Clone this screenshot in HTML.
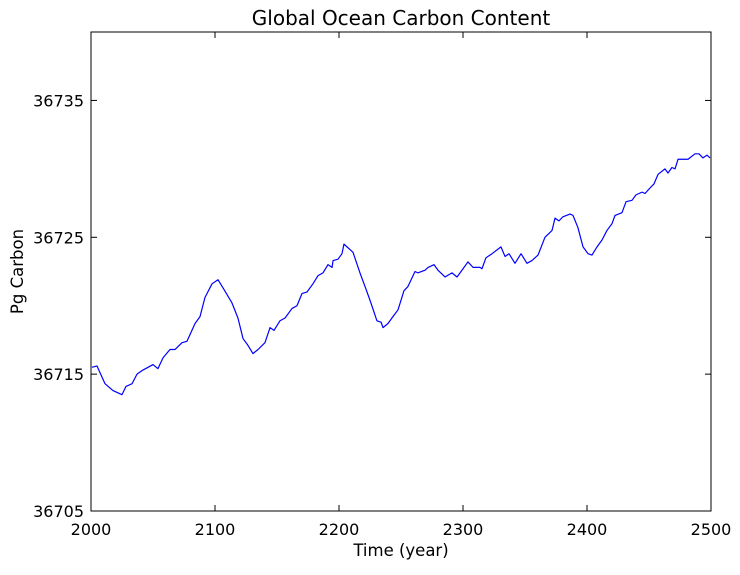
<!DOCTYPE html>
<html><head><meta charset="utf-8"><style>
body{margin:0;background:#fff}
svg text{font-family:"DejaVu Sans","Liberation Sans",sans-serif;fill:#000}
</style></head><body>
<svg id="chart" width="740" height="570" xmlns="http://www.w3.org/2000/svg"></svg>
<script>
const years=[2000.8,2004.8,2007.3,2011.3,2017.7,2025.0,2028.2,2033.1,2037.1,2041.9,2046.0,2050.0,2054.0,2058.1,2063.7,2067.7,2073.4,2077.4,2083.9,2087.9,2091.9,2097.6,2102.4,2106.5,2113.7,2118.5,2122.6,2126.6,2130.6,2134.7,2140.3,2144.4,2147.6,2152.4,2156.5,2162.1,2166.1,2170.2,2174.2,2179.0,2183.1,2187.1,2191.1,2194.4,2195.2,2199.2,2202.4,2204.0,2208.9,2211.3,2216.9,2221.0,2225.0,2230.6,2233.9,2235.5,2239.5,2243.5,2247.6,2252.4,2255.6,2261.3,2263.7,2269.4,2271.8,2276.6,2279.8,2285.5,2291.1,2295.2,2299.2,2304.0,2308.1,2313.7,2315.3,2318.5,2323.4,2330.6,2333.9,2337.1,2341.9,2346.8,2351.6,2355.6,2360.5,2366.1,2371.8,2374.2,2377.4,2380.6,2386.3,2388.7,2392.7,2396.8,2400.8,2404.0,2408.1,2412.1,2416.1,2420.2,2422.6,2428.2,2431.5,2436.3,2439.5,2444.4,2446.8,2450.8,2454.0,2457.3,2462.9,2465.3,2468.5,2471.0,2473.4,2481.5,2487.1,2490.3,2493.5,2496.8,2499.2];
const carbon=[36715.5,36715.6,36715.1,36714.3,36713.8,36713.5,36714.1,36714.3,36715.0,36715.3,36715.5,36715.7,36715.4,36716.2,36716.8,36716.8,36717.3,36717.4,36718.7,36719.2,36720.6,36721.6,36721.9,36721.3,36720.2,36719.1,36717.6,36717.1,36716.5,36716.8,36717.3,36718.4,36718.2,36718.9,36719.1,36719.8,36720.0,36720.9,36721.0,36721.6,36722.2,36722.4,36723.0,36722.8,36723.3,36723.4,36723.8,36724.5,36724.1,36723.9,36722.4,36721.4,36720.4,36718.9,36718.8,36718.4,36718.7,36719.2,36719.7,36721.1,36721.4,36722.5,36722.4,36722.6,36722.8,36723.0,36722.6,36722.1,36722.4,36722.1,36722.6,36723.2,36722.8,36722.8,36722.7,36723.5,36723.8,36724.3,36723.6,36723.8,36723.1,36723.8,36723.1,36723.3,36723.7,36725.0,36725.5,36726.4,36726.2,36726.5,36726.7,36726.6,36725.7,36724.3,36723.8,36723.7,36724.3,36724.8,36725.5,36726.0,36726.6,36726.8,36727.6,36727.7,36728.1,36728.3,36728.2,36728.6,36728.9,36729.6,36730.0,36729.7,36730.1,36730.0,36730.7,36730.7,36731.1,36731.1,36730.8,36731.0,36730.8];
const xTicks=[2000,2100,2200,2300,2400,2500];
const yTicks=[36705,36715,36725,36735];
const L=91,R=711,T=32,B=511,X0=2000,X1=2500,Y0=36705,Y1=36740;
const sx=v=>L+(v-X0)/(X1-X0)*(R-L), sy=v=>B-(v-Y0)/(Y1-Y0)*(B-T);
const svg=document.getElementById('chart'),NS='http://www.w3.org/2000/svg';
function mk(t,a,txt){const e=document.createElementNS(NS,t);for(const k in a)e.setAttribute(k,a[k]);if(txt!==undefined)e.textContent=txt;svg.appendChild(e);return e;}
const line=mk('polyline',{points:years.map((y,i)=>sx(y)+','+sy(carbon[i])).join(' '),fill:'none',stroke:'#0000ff','stroke-width':1.2,'stroke-linejoin':'round'});


const frame=mk('rect',{x:L,y:T,width:R-L,height:B-T,fill:'none',stroke:'#000','stroke-width':1});


xTicks.forEach(v=>{const x=sx(v);
 mk('line',{x1:x,x2:x,y1:B,y2:B-6,stroke:'#000'});mk('line',{x1:x,x2:x,y1:T,y2:T+6,stroke:'#000'});
 const t=mk('text',{x:x,y:B+24,'text-anchor':'middle','font-size':16},v);
 
 });
yTicks.forEach(v=>{const y=sy(v);
 mk('line',{x1:L,x2:L+6,y1:y,y2:y,stroke:'#000'});mk('line',{x1:R,x2:R-6,y1:y,y2:y,stroke:'#000'});
 const t=mk('text',{x:L-7,y:y+6,'text-anchor':'end','font-size':16},v);
 
 });
const ti=mk('text',{x:(L+R)/2,y:25,'text-anchor':'middle','font-size':20},'Global Ocean Carbon Content');


const xl=mk('text',{x:(L+R)/2,y:556,'text-anchor':'middle','font-size':16.5},'Time (year)');


const yl=mk('text',{x:0,y:0,'text-anchor':'middle','font-size':16.5,transform:'translate(23,'+((T+B)/2)+') rotate(-90)'},'Pg Carbon');


</script>
</body></html>
